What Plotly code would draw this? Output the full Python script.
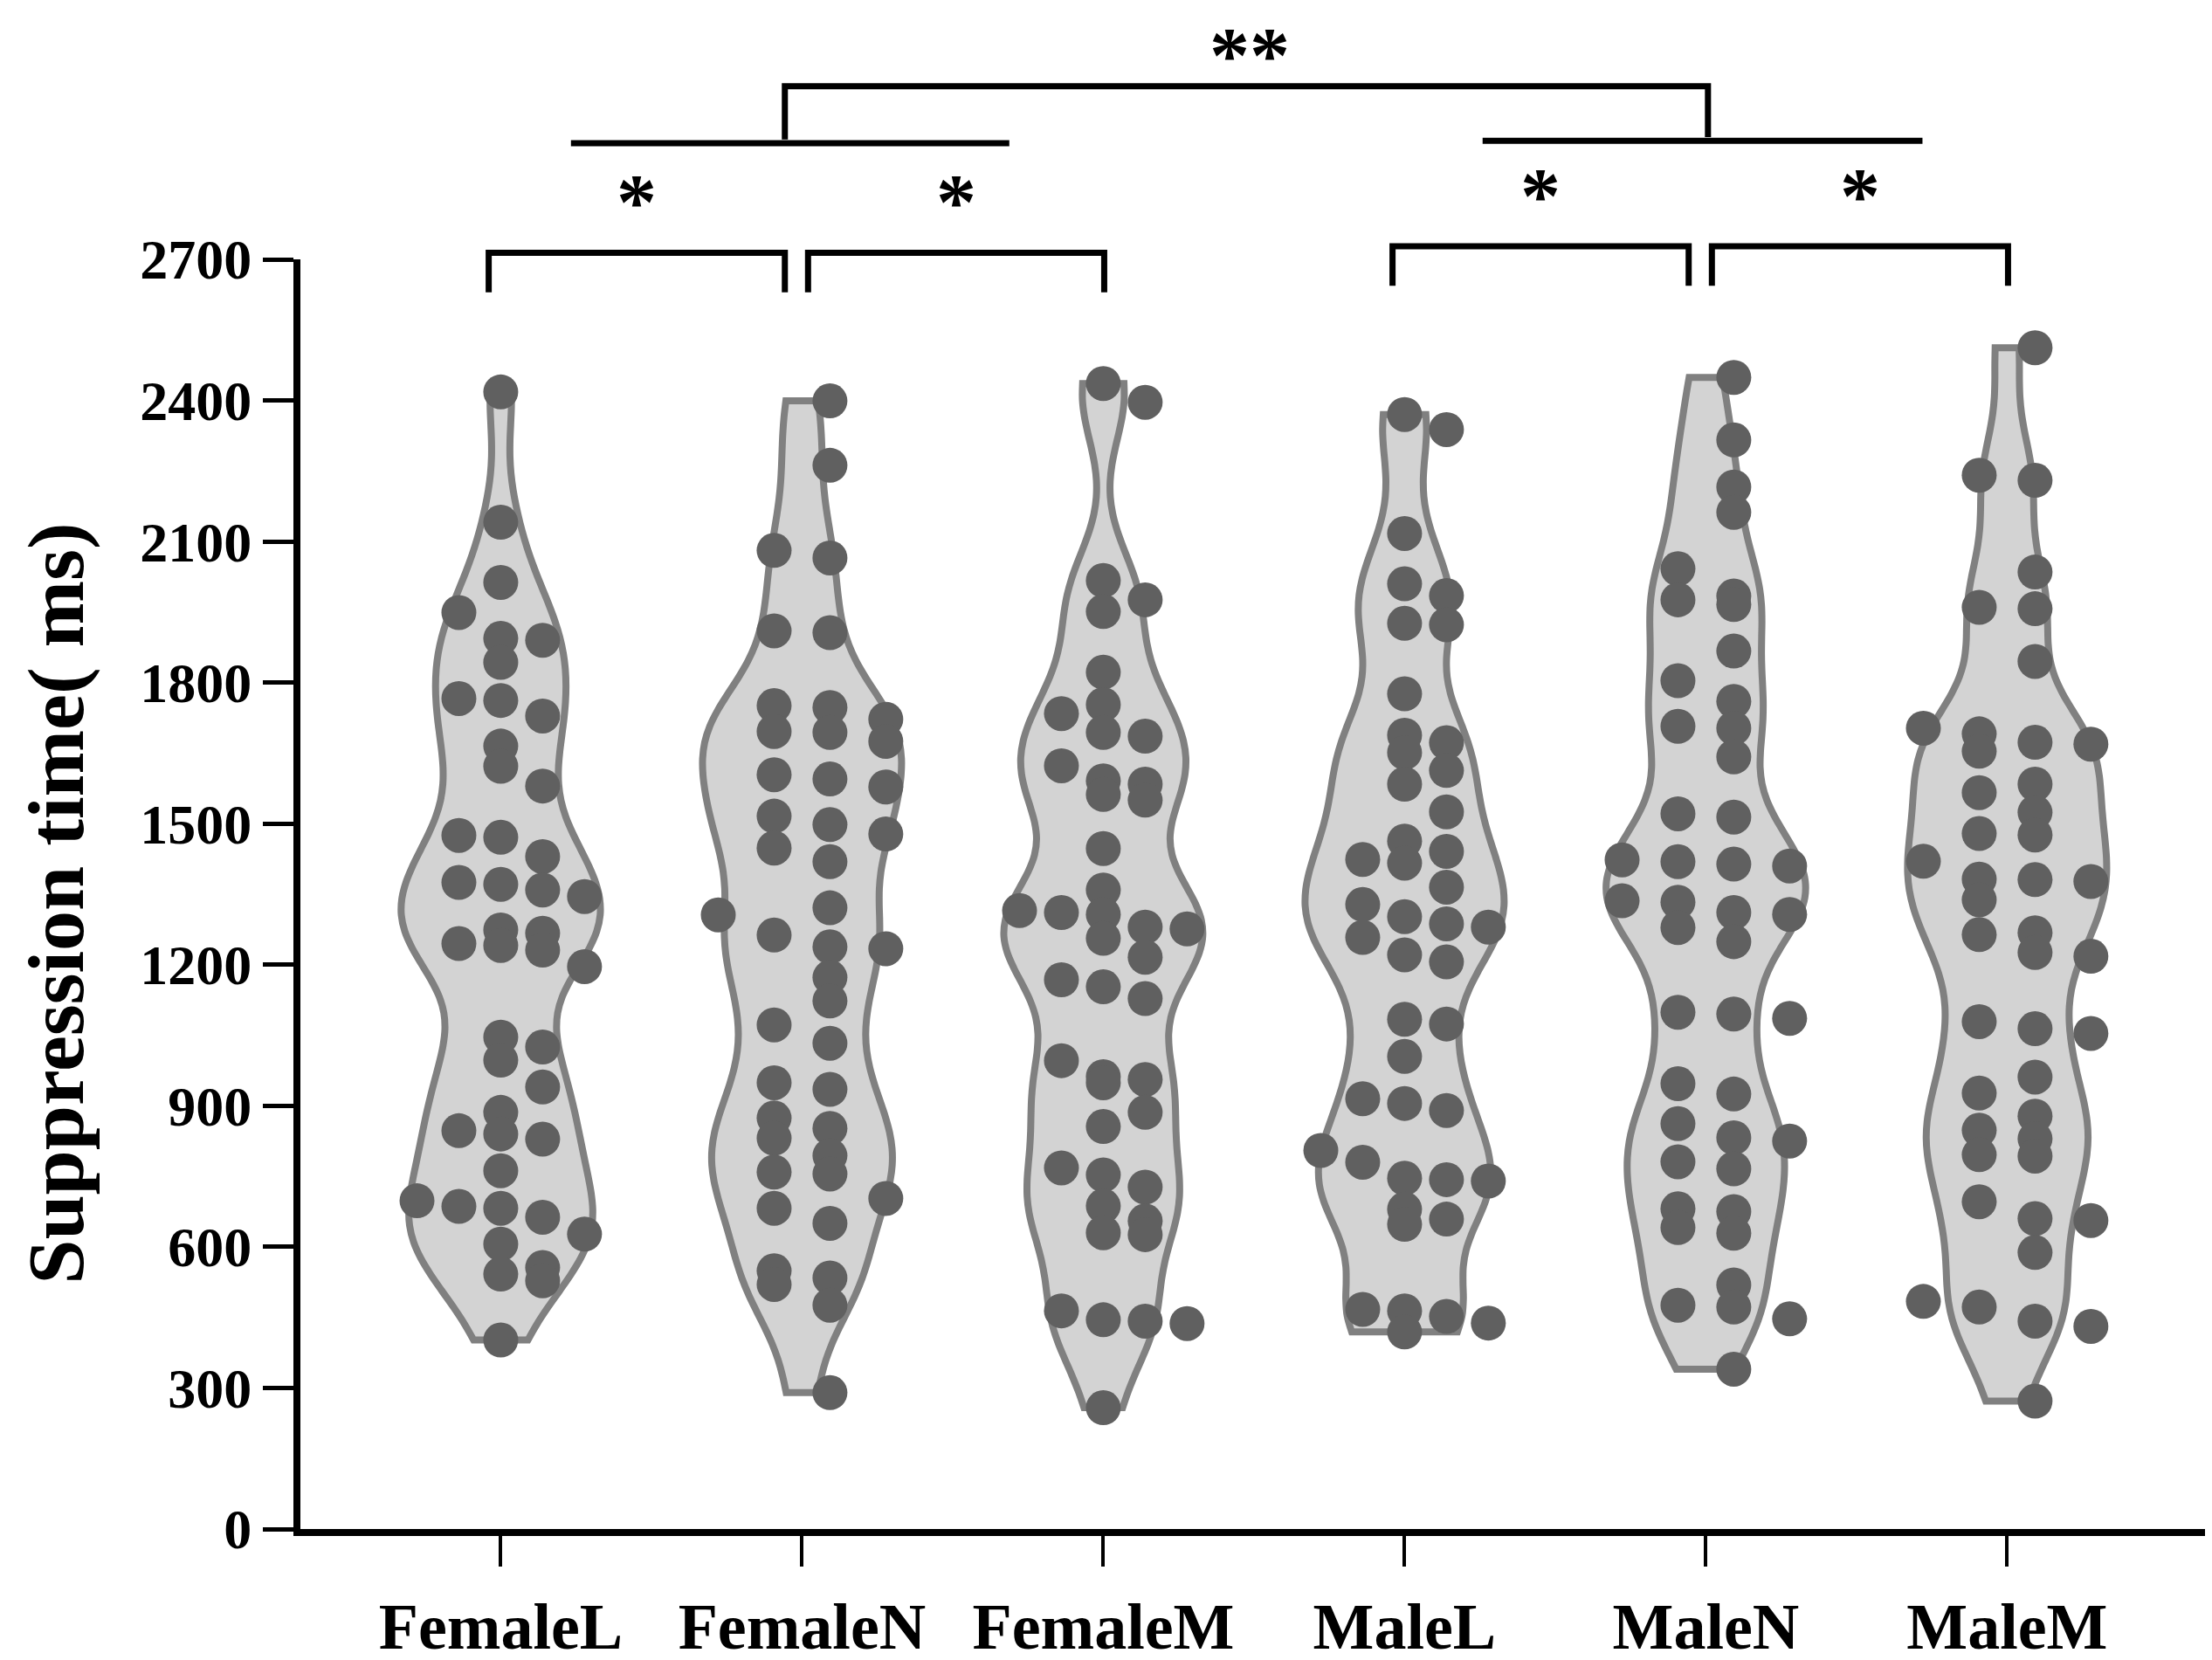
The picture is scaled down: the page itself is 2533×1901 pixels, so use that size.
import numpy as np
import plotly.graph_objects as go

# groups and suppression times (ms)
groups = ["FemaleL", "FemaleN", "FemaleM", "MaleL", "MaleN", "MaleM"]

female_l = [2418, 2141, 2013, 1949, 1894, 1890, 1843, 1766, 1762, 1729, 1665, 1622, 1580,
            1475, 1471, 1430, 1375, 1371, 1359, 1345, 1274, 1267, 1245, 1241, 1231, 1196,
            1046, 1025, 997, 940, 886, 847, 840, 829, 762, 698, 686, 682, 663, 627, 606,
            556, 542, 528, 402]
female_n = [2399, 2262, 2081, 2065, 1910, 1906, 1751, 1747, 1722, 1696, 1694, 1675, 1604,
            1595, 1578, 1516, 1498, 1478, 1448, 1419, 1321, 1306, 1263, 1238, 1234, 1173,
            1123, 1072, 1033, 949, 935, 874, 852, 831, 794, 759, 755, 703, 682, 650, 549,
            534, 520, 476, 290]
female_m = [2436, 2396, 2017, 1976, 1951, 1822, 1753, 1734, 1694, 1686, 1623, 1591, 1584,
            1562, 1550, 1447, 1359, 1315, 1311, 1307, 1280, 1276, 1256, 1216, 1168, 1153,
            1128, 996, 962, 956, 949, 886, 856, 768, 753, 727, 687, 655, 630, 626, 464, 445,
            442, 437, 258]
male_l = [2370, 2338, 2117, 2010, 1985, 1926, 1923, 1776, 1688, 1672, 1651, 1613, 1584,
          1525, 1463, 1441, 1424, 1416, 1365, 1328, 1302, 1287, 1280, 1258, 1221, 1206,
          1084, 1074, 1005, 915, 905, 890, 805, 780, 746, 743, 740, 680, 659, 648, 467,
          464, 452, 438, 419]
male_n = [2449, 2316, 2216, 2162, 2042, 1984, 1976, 1966, 1867, 1804, 1760, 1707, 1703,
          1642, 1521, 1514, 1423, 1419, 1414, 1410, 1336, 1333, 1311, 1307, 1279, 1249,
          1099, 1095, 1086, 947, 925, 862, 832, 825, 781, 766, 681, 675, 641, 629, 519,
          476, 472, 447, 340]
male_m = [2512, 2241, 2230, 2035, 1960, 1957, 1845, 1703, 1691, 1673, 1669, 1654, 1584,
          1566, 1524, 1479, 1476, 1420, 1382, 1381, 1377, 1338, 1268, 1264, 1226, 1218,
          1079, 1064, 1054, 961, 927, 878, 848, 830, 796, 793, 696, 660, 656, 588, 484,
          472, 442, 431, 272]

all_values = [female_l, female_n, female_m, male_l, male_n, male_m]

y_ticks = [0, 300, 600, 900, 1200, 1500, 1800, 2100, 2400, 2700]

# significance marks
pair_tests = [(0, 1, "*"), (1, 2, "*"), (3, 4, "*"), (4, 5, "*")]
sex_test = "**"

Y_MAX = 2700
FONT = "Liberation Serif"


def dot_offsets(vals, row_h=78, span=0.556):
    # prism-like column scatter: bin by value, spread each row over columns
    v = np.asarray(vals, float)
    rows = np.floor((v.max() - v) / row_h).astype(int)
    ncols = int(np.bincount(rows).max())
    step = span / (ncols - 1) if ncols > 1 else 0
    slots = np.arange(ncols) - (ncols - 1) / 2
    order = sorted(slots, key=lambda s: (abs(s), -s))
    offs = np.zeros(len(v))
    for r in np.unique(rows):
        idx = np.where(rows == r)[0]
        idx = idx[np.argsort(-v[idx])]
        offs[idx] = np.array(sorted(order[:len(idx)])) * step
    return offs


fig = go.Figure()

for i, vals in enumerate(all_values):
    fig.add_trace(go.Violin(
        x=[i] * len(vals), y=vals, width=0.66, scalemode="width",
        spanmode="hard", bandwidth=105, points=False,
        fillcolor="#d3d3d3", line=dict(color="#808080", width=8),
        box_visible=False, meanline_visible=False,
        showlegend=False, hoverinfo="skip"))

for i, vals in enumerate(all_values):
    fig.add_trace(go.Scatter(
        x=i + dot_offsets(vals), y=vals, mode="markers",
        marker=dict(size=40, color="#606060", line=dict(width=0)),
        showlegend=False, hoverinfo="skip"))


def py(v):
    return v / Y_MAX


shapes = []
annotations = []
line_style = dict(color="black", width=7)
star_font = dict(family=FONT, size=92, color="black", weight="bold")

# lower brackets between neighbouring groups
for a, b, mark in pair_tests:
    top = 2714 if a < 3 else 2728
    foot = top - 84
    xa = a - 0.04 + (0.06 if a in (1, 4) else 0)
    xb = b - 0.057 + (0.06 if b in (2, 5) else 0)
    shapes.append(dict(type="path", xref="x", yref="paper", line=line_style,
                       path=f"M {xa},{py(foot)} L {xa},{py(top)} L {xb},{py(top)} L {xb},{py(foot)}"))
    annotations.append(dict(x=(xa + xb) / 2, y=py(top + 108), xref="x", yref="paper",
                            text=mark, showarrow=False, yanchor="middle", font=star_font))

# sex comparison bracket
shapes.append(dict(type="line", xref="x", yref="paper", x0=0.233, x1=1.688,
                   y0=py(2947), y1=py(2947), line=line_style))
shapes.append(dict(type="line", xref="x", yref="paper", x0=3.259, x1=4.719,
                   y0=py(2952), y1=py(2952), line=line_style))
shapes.append(dict(type="path", xref="x", yref="paper", line=line_style,
                   path=f"M 0.943,{py(2955)} L 0.943,{py(3068)} L 4.007,{py(3068)} L 4.007,{py(2960)}"))
annotations.append(dict(x=2.486, y=1.1975, xref="x", yref="paper", text=sex_test,
                        showarrow=False, yanchor="top", font=star_font))

# y axis title
annotations.append(dict(x=-0.1522, y=0.4925, xref="paper", yref="paper",
                        text="Suppression time( ms)", textangle=-90, showarrow=False,
                        xanchor="left", yanchor="middle",
                        font=dict(family=FONT, size=92, color="black", weight="bold")))

fig.update_layout(
    width=2533, height=1901,
    margin=dict(l=336, r=8, t=289, b=158),
    plot_bgcolor="white", paper_bgcolor="white",
    shapes=shapes, annotations=annotations,
    violinmode="overlay",
    xaxis=dict(range=[-0.665, 5.68], tickvals=list(range(len(groups))), ticktext=groups,
               showline=True, linecolor="black", linewidth=8,
               ticks="outside", ticklen=35, tickwidth=4, tickcolor="black",
               ticklabelstandoff=5, showgrid=False, zeroline=False, automargin=False,
               tickfont=dict(family=FONT, size=74, color="black", weight="bold")),
    yaxis=dict(range=[0, Y_MAX], tickvals=y_ticks,
               showline=True, linecolor="black", linewidth=8,
               ticks="outside", ticklen=35, tickwidth=5, tickcolor="black",
               showgrid=False, zeroline=False, automargin=False,
               tickfont=dict(family=FONT, size=64, color="black", weight="bold")),
)

fig.write_html("out.html")
